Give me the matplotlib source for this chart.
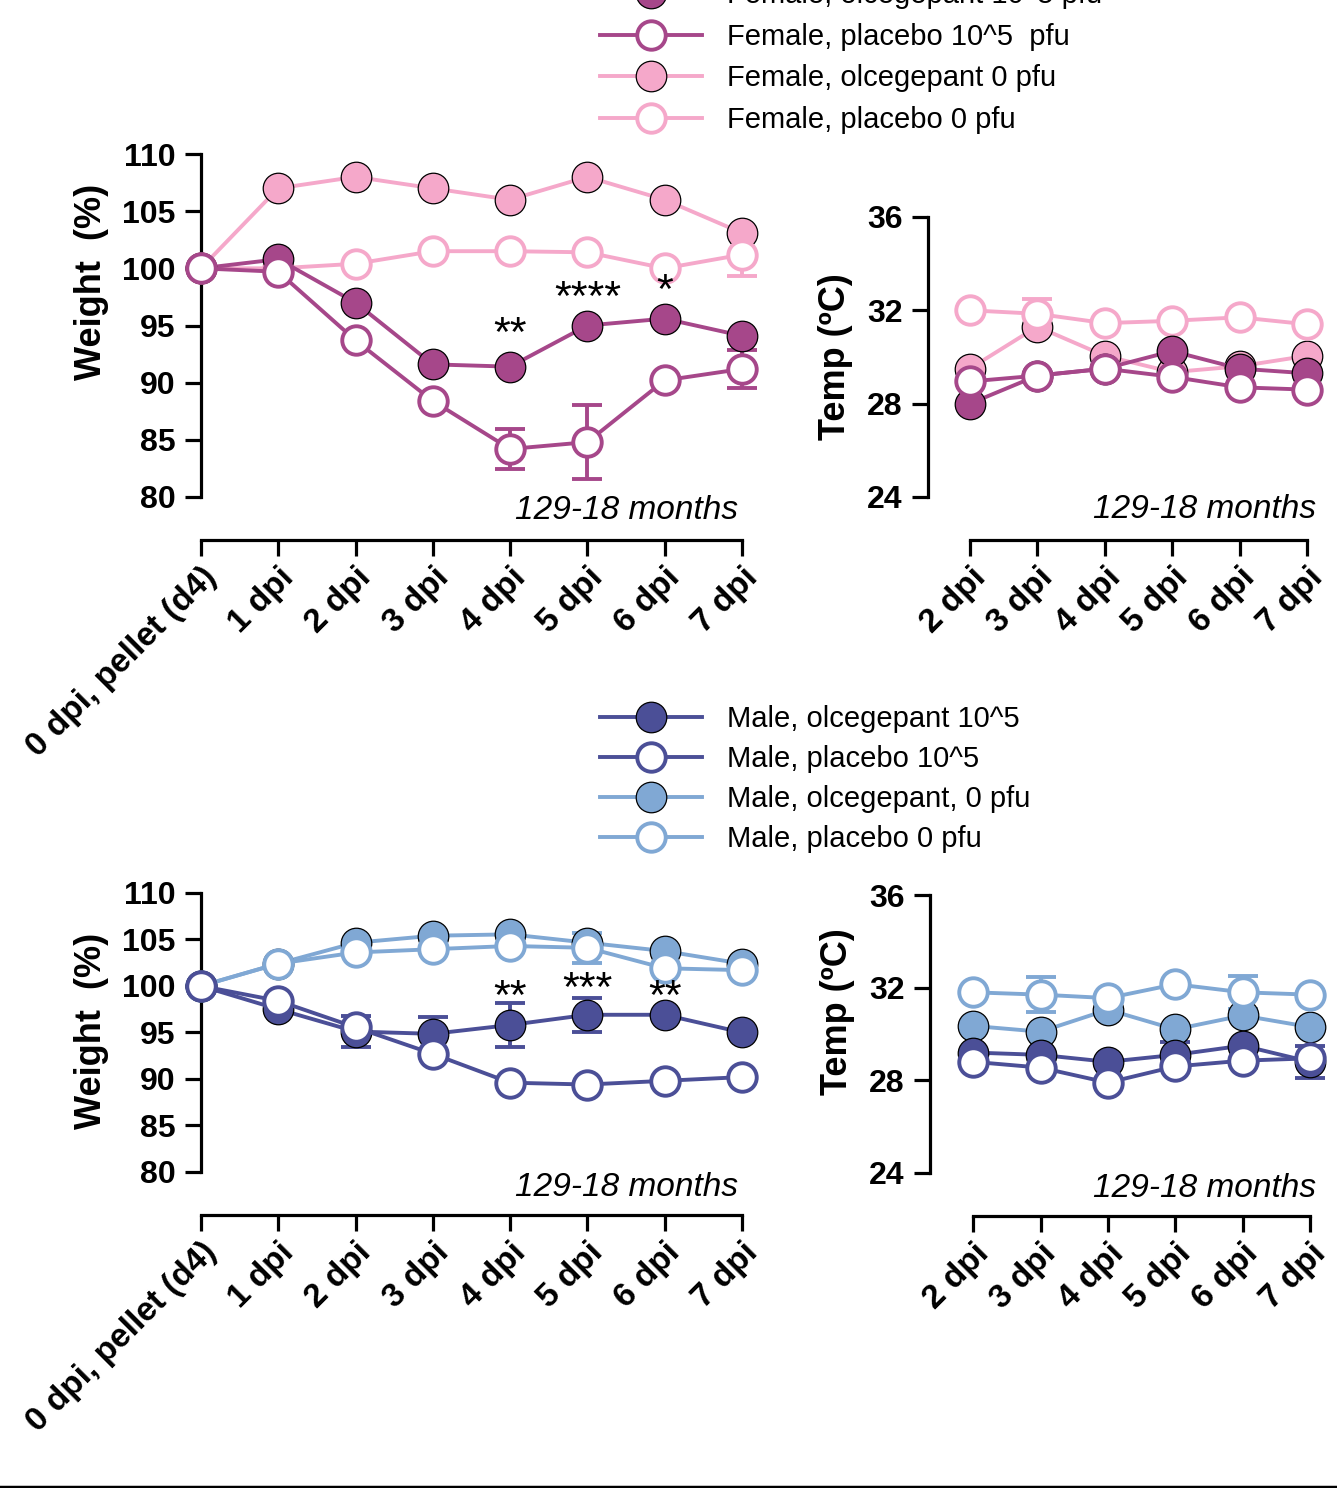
import numpy as np
import matplotlib
matplotlib.use("Agg")
import matplotlib.pyplot as plt
from matplotlib.lines import Line2D

plt.rcParams['font.family'] = ['Liberation Sans', 'DejaVu Sans']

# ---- data ----
x_weight = [0, 1, 2, 3, 4, 5, 6, 7]
weight_labels = ["0 dpi, pellet (d4)", "1 dpi", "2 dpi", "3 dpi", "4 dpi", "5 dpi", "6 dpi", "7 dpi"]
x_temp = [2, 3, 4, 5, 6, 7]
temp_labels = ["2 dpi", "3 dpi", "4 dpi", "5 dpi", "6 dpi", "7 dpi"]

# female weight (%)
f_olc105_w = [100, 100.8, 97.0, 91.6, 91.4, 95.0, 95.6, 94.1]
f_pla105_w = [100, 99.7, 93.7, 88.4, 84.2, 84.8, 90.2, 91.2]
f_pla105_w_err = [0, 0, 0, 0, 1.75, 3.25, 0, 1.7]
f_olc0_w = [100, 107.0, 108.0, 107.0, 106.0, 108.0, 106.0, 103.1]
f_pla0_w = [100, 100.0, 100.4, 101.5, 101.5, 101.4, 100.0, 101.2]
f_pla0_w_err = [0, 0, 0, 0, 0, 0, 0, 1.9]

# female temperature (C)
f_olc105_t = [28.0, 29.2, 29.5, 30.25, 29.5, 29.3]
f_pla105_t = [28.95, 29.2, 29.5, 29.15, 28.7, 28.6]
f_olc0_t = [29.5, 31.3, 30.05, 29.35, 29.6, 30.05]
f_pla0_t = [32.0, 31.85, 31.45, 31.55, 31.7, 31.4]
f_pla0_t_err = [0, 0.65, 0, 0, 0, 0]

# male weight (%)
m_olc105_w = [100, 97.5, 95.1, 94.85, 95.8, 96.9, 96.9, 95.0]
m_olc105_w_err = [0, 0, 1.65, 1.8, 2.35, 1.8, 0, 0]
m_pla105_w = [100, 98.4, 95.55, 92.7, 89.6, 89.4, 89.8, 90.2]
m_olc0_w = [100, 102.4, 104.65, 105.4, 105.55, 104.65, 103.75, 102.4]
m_pla0_w = [100, 102.4, 103.6, 103.95, 104.3, 104.1, 101.9, 101.7]
m_pla0_w_err = [0, 0, 0, 0, 0, 1.6, 0, 0]

# male temperature (C)
m_olc105_t = [29.2, 29.1, 28.8, 29.1, 29.5, 28.8]
m_olc105_t_err = [0, 0, 0, 0.55, 0, 0.7]
m_pla105_t = [28.8, 28.55, 27.9, 28.6, 28.85, 28.95]
m_olc0_t = [30.35, 30.1, 31.05, 30.2, 30.8, 30.3]
m_pla0_t = [31.8, 31.7, 31.55, 32.15, 31.8, 31.7]
m_pla0_t_err = [0, 0.77, 0, 0, 0.7, 0]

# significance marks (x, y centre, text)
f_stars = [(4, 94.9, "**"), (5, 98.05, "****"), (6, 98.7, "*")]
m_stars = [(4, 99.6, "**"), (5, 100.5, "***"), (6, 99.6, "**")]

DARK_F = "#A6478A"
LIGHT_F = "#F5A8CA"
DARK_M = "#4B4F97"
LIGHT_M = "#80A8D4"

LW = 2.8
SPINE_W = 2.3
TICK_FS = 23


def plot_series(ax, x, y, color, filled, err=None, label=None):
    x = np.asarray(x, dtype=float)
    y = np.asarray(y, dtype=float)
    if err is not None:
        err = np.asarray(err, dtype=float)
        m = err > 0
        ax.errorbar(x[m], y[m], yerr=err[m], fmt="none", ecolor=color,
                    elinewidth=LW, capsize=11, capthick=LW, clip_on=False, zorder=2)
    if filled:
        line, = ax.plot(x, y, "-o", color=color, lw=LW, ms=22, mfc=color,
                        mec="black", mew=0.9, clip_on=False, zorder=3, label=label)
    else:
        line, = ax.plot(x, y, "-o", color=color, lw=LW, ms=20.5, mfc="white",
                        mec=color, mew=2.8, clip_on=False, zorder=3, label=label)
    return line


def style_axis(ax, xticks, xlabels, yticks, ylabel, ylabel_pos, xbounds, note_pos):
    for s in ["top", "right"]:
        ax.spines[s].set_visible(False)
    ax.spines["left"].set_linewidth(SPINE_W)
    ax.spines["bottom"].set_linewidth(SPINE_W)
    ax.spines["bottom"].set_position(("outward", 31))
    ax.spines["bottom"].set_bounds(*xbounds)
    ax.spines["left"].set_bounds(yticks[0], yticks[-1])
    ax.set_xticks(xticks)
    ax.set_xticklabels(xlabels, rotation=45, ha="right", rotation_mode="anchor",
                       fontsize=24, fontweight="bold")
    ax.set_yticks(yticks)
    ax.set_yticklabels([str(t) for t in yticks], fontsize=TICK_FS, fontweight="bold")
    ax.tick_params(axis="both", direction="out", length=11.5, width=SPINE_W)
    ax.tick_params(axis="y", pad=7)
    ax.tick_params(axis="x", pad=4)
    ax.set_ylabel(ylabel, fontsize=26, fontweight="bold")
    ax.yaxis.set_label_coords(*ylabel_pos)
    ax.text(note_pos[0], note_pos[1], "129-18 months", transform=ax.transAxes,
            ha="right", va="center", fontsize=24, style="italic")


def add_stars(ax, stars):
    for xs, ys, t in stars:
        ax.annotate(t, (xs, ys), xytext=(0, -14), textcoords="offset points",
                    ha="center", va="baseline", fontsize=31)


fig = plt.figure(figsize=(13.37, 14.88), dpi=100)

# ---- female weight ----
ax1 = fig.add_axes([0.1503, 0.666, 0.4046, 0.2305])
plot_series(ax1, x_weight, f_olc0_w, LIGHT_F, True, label="Female, olcegepant 0 pfu")
plot_series(ax1, x_weight, f_pla0_w, LIGHT_F, False, f_pla0_w_err, label="Female, placebo 0 pfu")
plot_series(ax1, x_weight, f_olc105_w, DARK_F, True, label="Female, olcegepant 10^5 pfu")
plot_series(ax1, x_weight, f_pla105_w, DARK_F, False, f_pla105_w_err, label="Female, placebo 10^5  pfu")
ax1.set_xlim(0, 7)
ax1.set_ylim(80, 110)
style_axis(ax1, x_weight, weight_labels, [80, 85, 90, 95, 100, 105, 110],
           "Weight  (%)", (-0.17, 0.627), (0, 7), (0.993, -0.038))
add_stars(ax1, f_stars)

# ---- female temp ----
ax2 = fig.add_axes([0.6941, 0.666, 0.2835, 0.1882])
plot_series(ax2, x_temp, f_olc0_t, LIGHT_F, True)
plot_series(ax2, x_temp, f_pla0_t, LIGHT_F, False, f_pla0_t_err)
plot_series(ax2, x_temp, f_olc105_t, DARK_F, True)
plot_series(ax2, x_temp, f_pla105_t, DARK_F, False)
ax2.set_xlim(1.38, 7)
ax2.set_ylim(24, 36)
style_axis(ax2, x_temp, temp_labels, [24, 28, 32, 36], "Temp (ºC)",
           (-0.198, 0.5), (2, 7), (1.024, -0.046))

# ---- male weight ----
ax3 = fig.add_axes([0.1503, 0.2124, 0.4046, 0.1875])
plot_series(ax3, x_weight, m_olc0_w, LIGHT_M, True, label="Male, olcegepant, 0 pfu")
plot_series(ax3, x_weight, m_pla0_w, LIGHT_M, False, m_pla0_w_err, label="Male, placebo 0 pfu")
plot_series(ax3, x_weight, m_olc105_w, DARK_M, True, m_olc105_w_err, label="Male, olcegepant 10^5")
plot_series(ax3, x_weight, m_pla105_w, DARK_M, False, label="Male, placebo 10^5")
ax3.set_xlim(0, 7)
ax3.set_ylim(80, 110)
style_axis(ax3, x_weight, weight_labels, [80, 85, 90, 95, 100, 105, 110],
           "Weight  (%)", (-0.17, 0.505), (0, 7), (0.993, -0.057))
add_stars(ax3, m_stars)

# ---- male temp ----
ax4 = fig.add_axes([0.6956, 0.2117, 0.2842, 0.1868])
plot_series(ax4, x_temp, m_olc0_t, LIGHT_M, True)
plot_series(ax4, x_temp, m_pla0_t, LIGHT_M, False, m_pla0_t_err)
plot_series(ax4, x_temp, m_olc105_t, DARK_M, True, m_olc105_t_err)
plot_series(ax4, x_temp, m_pla105_t, DARK_M, False)
ax4.set_xlim(1.36, 7)
ax4.set_ylim(24, 36)
style_axis(ax4, x_temp, temp_labels, [24, 28, 32, 36], "Temp (ºC)",
           (-0.197, 0.58), (2, 7), (1.016, -0.054))

# ---- legends ----
order = [2, 3, 0, 1]
h, l = ax1.get_legend_handles_labels()
fig.legend([h[i] for i in order], [l[i] for i in order], loc="upper left",
           bbox_to_anchor=(0.4488, 1.0126), frameon=False, fontsize=21,
           handlelength=3.5, handletextpad=0.85, labelspacing=0.465,
           borderpad=0, borderaxespad=0)
h, l = ax3.get_legend_handles_labels()
fig.legend([h[i] for i in order], [l[i] for i in order], loc="upper left",
           bbox_to_anchor=(0.4488, 0.5262), frameon=False, fontsize=21,
           handlelength=3.5, handletextpad=0.85, labelspacing=0.41,
           borderpad=0, borderaxespad=0)

fig.add_artist(Line2D([0, 1], [0.001, 0.001], color="black", lw=2.5))

fig.savefig("out.png", dpi=100)
